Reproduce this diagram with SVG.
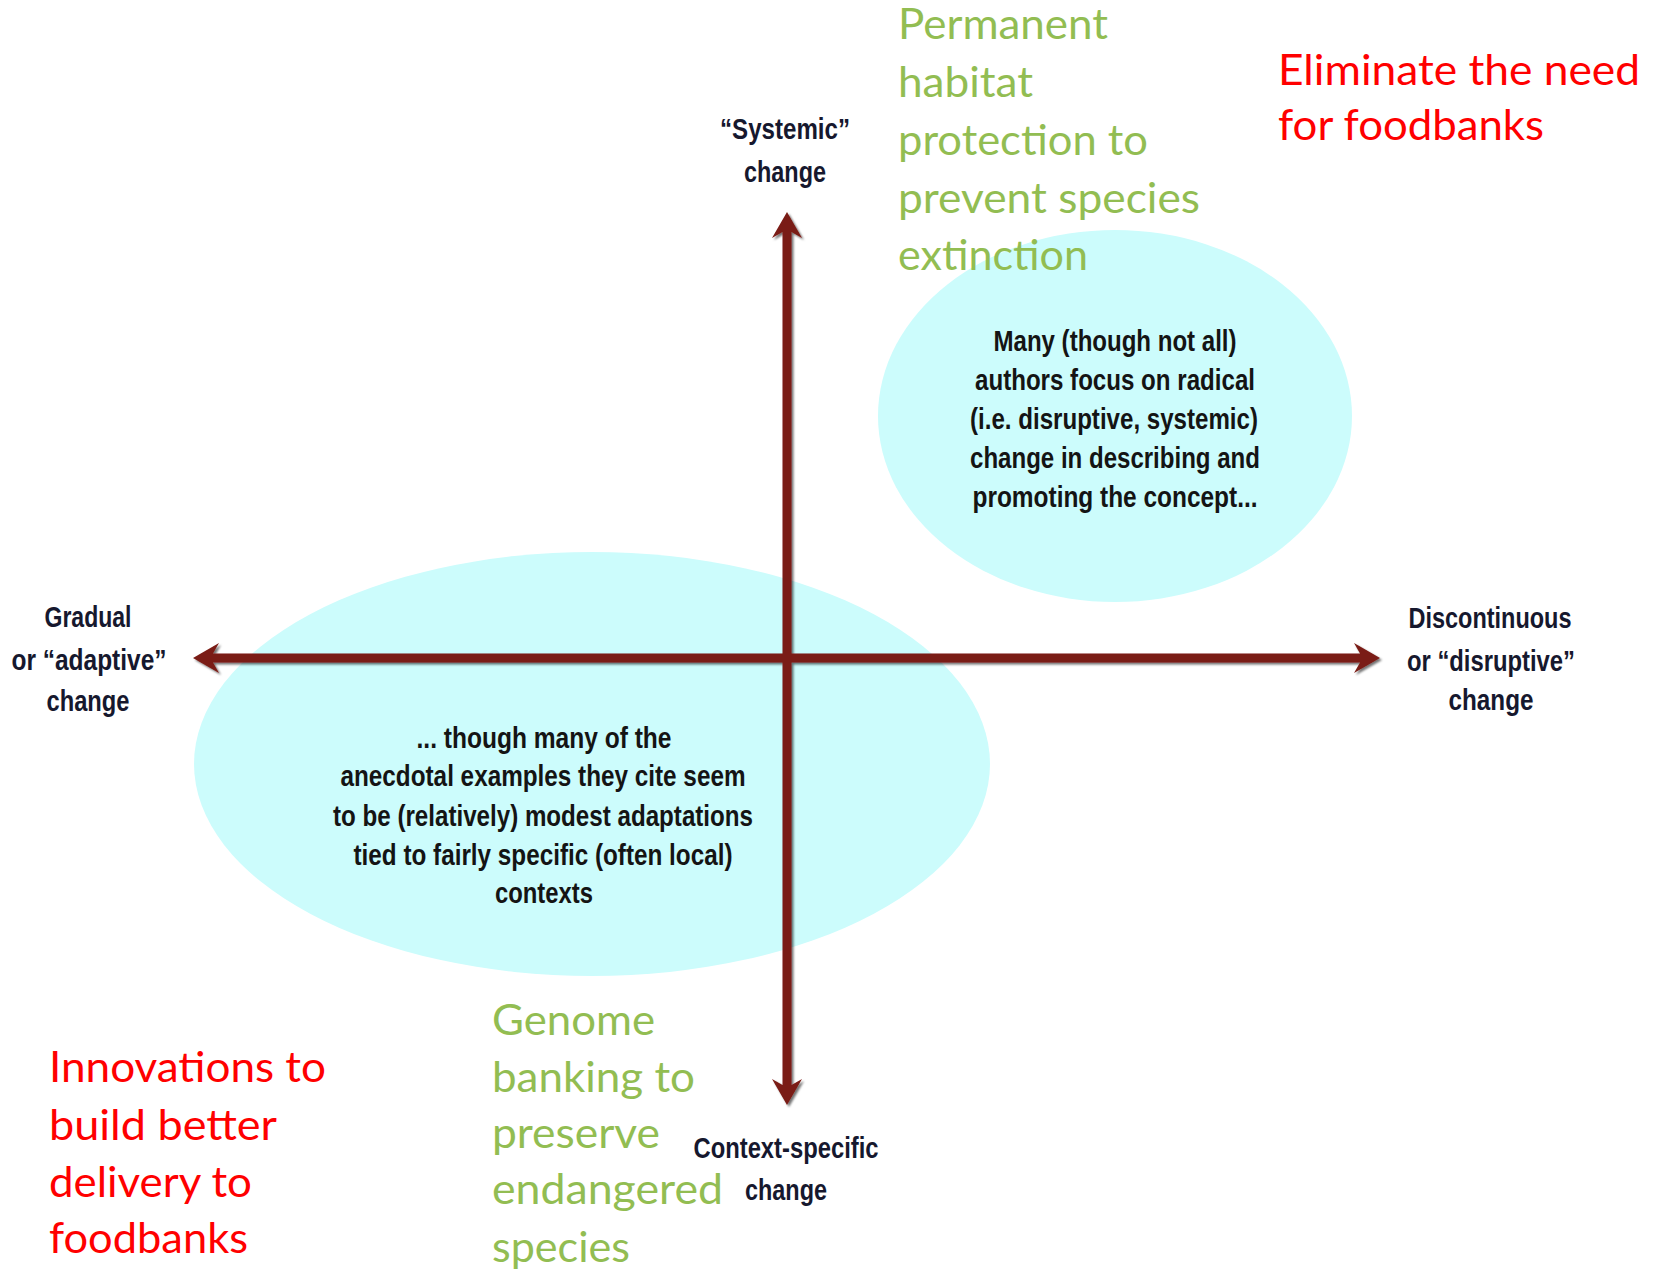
<svg xmlns="http://www.w3.org/2000/svg" width="1661" height="1269" viewBox="0 0 1661 1269">
<style>
.bg{fill:#ffffff}
.blob{fill:#CCFCFC}
.ax{font-family:"Liberation Sans Narrow","Arial Narrow","Liberation Sans",sans-serif;font-weight:bold;font-size:29px;fill:#16182e;text-anchor:middle}
.note{font-family:"Liberation Sans Narrow","Arial Narrow","Liberation Sans",sans-serif;font-weight:bold;font-size:29px;fill:#141414;text-anchor:middle}
.green{font-family:Lato,"Open Sans","Noto Sans",sans-serif;font-size:42px;fill:#92BD52}
.red{font-family:Lato,"Open Sans","Noto Sans",sans-serif;font-size:42px;fill:#FF0000}
.arrow{stroke:#7A1C14;stroke-width:9;fill:none}
</style>
<defs>
<marker id="head" viewBox="-10 -20 40 40" refX="0" refY="0" markerWidth="40" markerHeight="40" markerUnits="userSpaceOnUse" orient="auto-start-reverse">
<path d="M20,0 L-6,-15 L0,-4.5 L0,4.5 L-6,15 Z" fill="#7A1C14"/>
</marker>
<filter id="shadow" x="-5%" y="-5%" width="110%" height="110%">
<feDropShadow dx="2" dy="2" stdDeviation="1" flood-color="#000" flood-opacity="0.55"/>
</filter>
</defs>
<rect class="bg" x="0" y="0" width="1661" height="1269"/>

<g id="ellipse-radical">
<ellipse class="blob" cx="1115" cy="416" rx="237" ry="186"/>
</g>
<g id="ellipse-modest">
<ellipse class="blob" cx="592" cy="764" rx="398" ry="212"/>
</g>

<g id="connectors" filter="url(#shadow)">
<line class="arrow" x1="787" y1="232" x2="787" y2="1085" marker-start="url(#head)" marker-end="url(#head)"/>
<line class="arrow" x1="213" y1="658" x2="1360" y2="658" marker-start="url(#head)" marker-end="url(#head)"/>
</g>

<g id="note-radical">
<text class="note" x="1115" y="351" textLength="243" lengthAdjust="spacingAndGlyphs">Many (though not all)</text>
<text class="note" x="1115" y="390" textLength="280" lengthAdjust="spacingAndGlyphs">authors focus on radical</text>
<text class="note" x="1114" y="429" textLength="288" lengthAdjust="spacingAndGlyphs">(i.e. disruptive, systemic)</text>
<text class="note" x="1115" y="468" textLength="290" lengthAdjust="spacingAndGlyphs">change in describing and</text>
<text class="note" x="1115" y="507" textLength="285" lengthAdjust="spacingAndGlyphs">promoting the concept...</text>
</g>

<g id="note-modest">
<text class="note" x="544" y="748" textLength="255" lengthAdjust="spacingAndGlyphs">... though many of the</text>
<text class="note" x="543" y="786" textLength="405" lengthAdjust="spacingAndGlyphs">anecdotal examples they cite seem</text>
<text class="note" x="543" y="826" textLength="420" lengthAdjust="spacingAndGlyphs">to be (relatively) modest adaptations</text>
<text class="note" x="543" y="865" textLength="379" lengthAdjust="spacingAndGlyphs">tied to fairly specific (often local)</text>
<text class="note" x="544" y="903" textLength="98" lengthAdjust="spacingAndGlyphs">contexts</text>
</g>

<g id="label-systemic">
<text class="ax" x="785" y="139" textLength="130" lengthAdjust="spacingAndGlyphs">“Systemic”</text>
<text class="ax" x="785" y="182" textLength="82" lengthAdjust="spacingAndGlyphs">change</text>
</g>
<g id="label-gradual">
<text class="ax" x="88" y="627" textLength="87" lengthAdjust="spacingAndGlyphs">Gradual</text>
<text class="ax" x="89" y="670" textLength="155" lengthAdjust="spacingAndGlyphs">or “adaptive”</text>
<text class="ax" x="88" y="711" textLength="83" lengthAdjust="spacingAndGlyphs">change</text>
</g>
<g id="label-discontinuous">
<text class="ax" x="1490" y="628" textLength="163" lengthAdjust="spacingAndGlyphs">Discontinuous</text>
<text class="ax" x="1491" y="671" textLength="168" lengthAdjust="spacingAndGlyphs">or “disruptive”</text>
<text class="ax" x="1491" y="710" textLength="85" lengthAdjust="spacingAndGlyphs">change</text>
</g>
<g id="label-context">
<text class="ax" x="786" y="1158" textLength="185" lengthAdjust="spacingAndGlyphs">Context-specific</text>
<text class="ax" x="786" y="1200" textLength="82" lengthAdjust="spacingAndGlyphs">change</text>
</g>

<g id="example-habitat">
<text class="green" x="898" y="39" textLength="210" lengthAdjust="spacingAndGlyphs">Permanent</text>
<text class="green" x="898" y="97" textLength="135" lengthAdjust="spacingAndGlyphs">habitat</text>
<text class="green" x="898" y="155" textLength="250" lengthAdjust="spacingAndGlyphs">protection to</text>
<text class="green" x="898" y="213" textLength="302" lengthAdjust="spacingAndGlyphs">prevent species</text>
<text class="green" x="898" y="270" textLength="190" lengthAdjust="spacingAndGlyphs">extinction</text>
</g>
<g id="example-eliminate">
<text class="red" x="1278" y="85" textLength="362" lengthAdjust="spacingAndGlyphs">Eliminate the need</text>
<text class="red" x="1278" y="140" textLength="266" lengthAdjust="spacingAndGlyphs">for foodbanks</text>
</g>
<g id="example-innovations">
<text class="red" x="49" y="1082" textLength="277" lengthAdjust="spacingAndGlyphs">Innovations to</text>
<text class="red" x="49" y="1140" textLength="228" lengthAdjust="spacingAndGlyphs">build better</text>
<text class="red" x="49" y="1197" textLength="203" lengthAdjust="spacingAndGlyphs">delivery to</text>
<text class="red" x="49" y="1253" textLength="199" lengthAdjust="spacingAndGlyphs">foodbanks</text>
</g>
<g id="example-genome">
<text class="green" x="492" y="1035" textLength="163" lengthAdjust="spacingAndGlyphs">Genome</text>
<text class="green" x="492" y="1092" textLength="203" lengthAdjust="spacingAndGlyphs">banking to</text>
<text class="green" x="492" y="1148" textLength="168" lengthAdjust="spacingAndGlyphs">preserve</text>
<text class="green" x="492" y="1204" textLength="231" lengthAdjust="spacingAndGlyphs">endangered</text>
<text class="green" x="492" y="1262" textLength="138" lengthAdjust="spacingAndGlyphs">species</text>
</g>
</svg>
